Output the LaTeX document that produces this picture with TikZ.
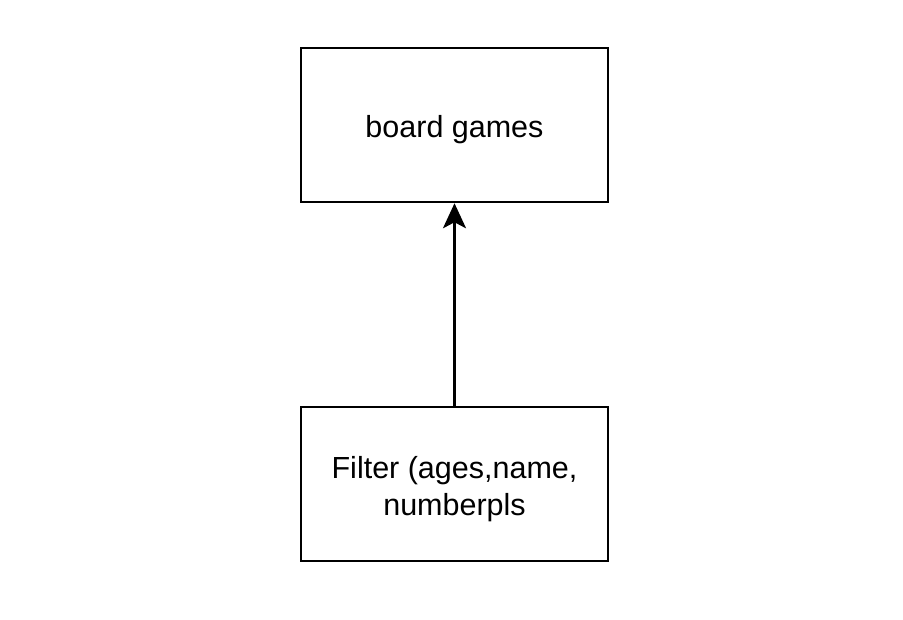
\documentclass[tikz,border=0pt]{standalone}
\usepackage{fontspec}
\setmainfont{Liberation Sans}
\usetikzlibrary{arrows.meta}
\begin{document}
\begin{tikzpicture}[x=1pt,y=-1pt,
  boxnode/.style={draw=black, line width=2.5pt, minimum width=307pt, minimum height=154pt, inner sep=0pt},
  boxtext/.style={align=center, inner sep=0pt, yshift=-5pt, font=\fontsize{30.5}{37}\selectfont},
  conn/.style={line width=2.5pt, -{Stealth[length=25pt, width=23pt, inset=6pt]}}]
\useasboundingbox (0,0) rectangle (903,619);
\node[boxnode, label={[boxtext, name=gamestext]center:board games}] (games) at (454.5,125) {};
\node[boxnode, label={[boxtext, name=filtertext]center:Filter (ages,name,\\numberpls}] (filter) at (454.5,484) {};
\draw[conn] (filter) -- (games);
\end{tikzpicture}
\end{document}
